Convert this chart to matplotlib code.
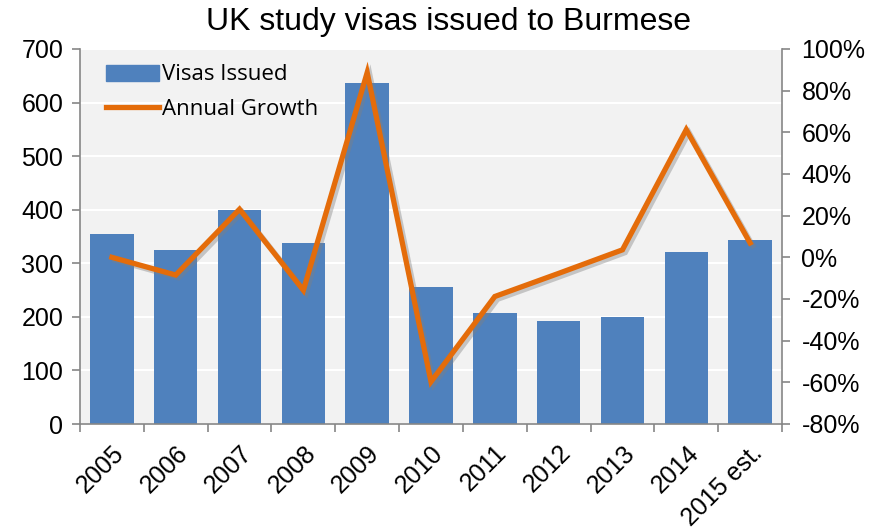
import matplotlib
matplotlib.use("Agg")
import matplotlib.pyplot as plt
import matplotlib.patheffects as pe
from matplotlib.ticker import FixedLocator, FuncFormatter
from matplotlib.patches import Patch
from matplotlib.lines import Line2D
import numpy as np

years = ["2005", "2006", "2007", "2008", "2009", "2010", "2011", "2012", "2013", "2014", "2015 est."]
visas = [355, 325, 400, 337, 636, 256, 208, 192, 199, 321, 343]
growth = [0.0, -8.5, 23.1, -15.8, 88.7, -59.7, -18.8, -7.7, 3.6, 61.3, 6.9]

bar_color = "#4F81BD"
line_color = "#E46C0A"
axis_gray = "#868686"

fig = plt.figure(figsize=(8.75, 5.32), dpi=100)
ax = fig.add_axes([80/875, 1-424/532, (782-80)/875, (424-49)/532])
ax.set_facecolor("#F2F2F2")
x = np.arange(len(years))

ax.bar(x, visas, width=0.68, color=bar_color, zorder=2)
ax.set_ylim(0, 700)
ax.set_xlim(-0.5, len(years)-0.5)
ax.set_yticks(range(0, 701, 100))
ax.yaxis.grid(True, color="white", linewidth=1.5, zorder=1)
ax.set_axisbelow(True)

ax.set_xticks(x)
ax.set_xticklabels(years, rotation=45, ha="right", rotation_mode="anchor",
                   fontsize=18, family="Liberation Sans")
ax.tick_params(axis="x", length=0, pad=12)
ax.xaxis.set_minor_locator(FixedLocator(np.arange(-0.5, len(years), 1)))
ax.tick_params(axis="x", which="minor", length=6, color=axis_gray, width=1.2)
ax.tick_params(axis="y", length=6, color=axis_gray, width=1.2, labelsize=18, pad=6)
for lbl in ax.get_yticklabels():
    lbl.set_family("Liberation Sans")

for s in ["top", "right"]:
    ax.spines[s].set_visible(False)
ax.spines["left"].set_color(axis_gray)
ax.spines["left"].set_linewidth(1.2)
ax.spines["bottom"].set_color(axis_gray)
ax.spines["bottom"].set_linewidth(1.2)

ax2 = ax.twinx()
ax2.set_ylim(-80, 100)
ax2.set_yticks(range(-80, 101, 20))
ax2.yaxis.set_major_formatter(FuncFormatter(lambda v, p: f"{int(v)}%"))
ax2.tick_params(axis="y", length=6, color=axis_gray, width=1.2, labelsize=18, pad=8)
for lbl in ax2.get_yticklabels():
    lbl.set_family("Liberation Sans")
for s in ["top", "left", "bottom"]:
    ax2.spines[s].set_visible(False)
ax2.spines["right"].set_color(axis_gray)
ax2.spines["right"].set_linewidth(1.2)

ax2.plot(x, growth, color=line_color, linewidth=3.8, solid_joinstyle="miter",
         path_effects=[pe.SimpleLineShadow(offset=(2, -2), shadow_color="gray", alpha=0.4),
                       pe.Normal()], zorder=3)

handles = [Patch(color=bar_color), Line2D([0], [0], color=line_color, linewidth=3.8)]
leg = ax.legend(handles, ["Visas Issued", "Annual Growth"], loc="upper left",
                bbox_to_anchor=(0.008, 1.012), frameon=False,
                prop={"family": "Open Sans", "size": 16}, handlelength=2.4,
                handleheight=0.75, handletextpad=0.15, labelspacing=0.6)

fig.text(448/875, 1-22/532, "UK study visas issued to Burmese", ha="center", va="center",
         fontsize=23, family="Liberation Sans")

fig.savefig("out.png", dpi=100)
